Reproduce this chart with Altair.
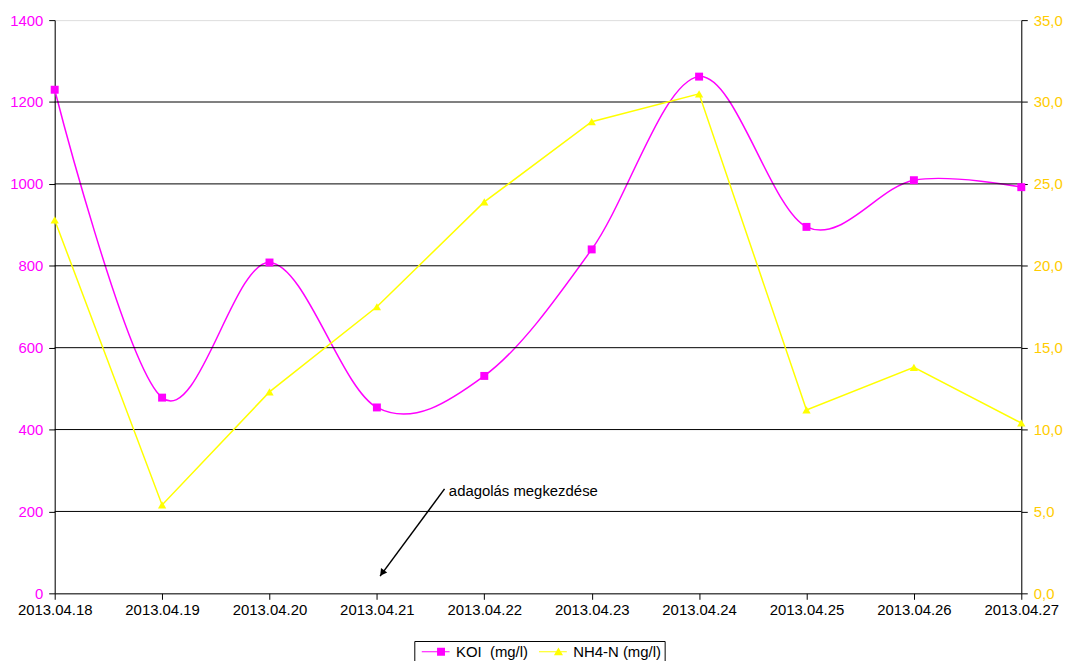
import json
import altair as alt
import pandas as pd

dates = ["2013.04.18", "2013.04.19", "2013.04.20", "2013.04.21", "2013.04.22",
         "2013.04.23", "2013.04.24", "2013.04.25", "2013.04.26", "2013.04.27"]
koi = [1230, 478, 808, 454, 531, 840, 1262, 895, 1009, 992]
nh4 = [22.8, 5.4, 12.3, 17.5, 23.9, 28.8, 30.5, 11.2, 13.8, 10.4]

series_names = ["KOI\u00a0\u00a0(mg/l)", "NH4-N (mg/l)"]
series_colors = ["#FF00FF", "#FFFF00"]

ann_text = ["adagolás megkezdése"]
ann_text_x = [3.67]
ann_text_y = [250]
arrow_x0, arrow_y0 = [3.63], [255]
arrow_x1, arrow_y1 = [3.03], [42]
head_x, head_y = [3.055], [52]

df = pd.DataFrame({"i": list(range(len(dates))), "date": dates, "koi": koi, "nh4": nh4})
ann_df = pd.DataFrame({"x": ann_text_x, "y": ann_text_y, "t": ann_text})
arrow_df = pd.DataFrame({"x0": arrow_x0, "y0": arrow_y0, "x1": arrow_x1, "y1": arrow_y1})
head_df = pd.DataFrame({"x": head_x, "y": head_y})
leg_df = pd.DataFrame({"s": series_names, "x": [None, None], "y": [None, None]})

FONT = "Liberation Sans"
xscale = alt.Scale(domain=[0, len(dates) - 1], nice=False, zero=False)
xaxis = alt.Axis(values=list(range(len(dates))), labelExpr=json.dumps(dates) + "[datum.value]",
                 title=None, grid=False, domainColor="black", tickColor="black", tickSize=6,
                 labelColor="black", labelFontSize=15, labelPadding=3, labelFont=FONT,
                 labelOverlap=False, labelFlush=False)
X = lambda f: alt.X(f, type="quantitative", scale=xscale, axis=xaxis)

yscale_l = alt.Scale(domain=[0, 1400], nice=False)
yscale_r = alt.Scale(domain=[0, 35], nice=False)

koi_line = alt.Chart(df).mark_line(color="#FF00FF", strokeWidth=1.5, interpolate="cardinal").encode(
    x=X("i"),
    y=alt.Y("koi:Q", scale=yscale_l, title=None,
            axis=alt.Axis(orient="left", values=list(range(0, 1401, 200)), grid=False,
                          domainColor="black", format="d",
                          tickColor="black", tickSize=6, labelColor="#FF00FF", labelFontSize=15,
                          labelPadding=6, labelFont=FONT, title=None, labelOverlap=False,
                          labelFlush=False)),
)
grid = alt.Chart(pd.DataFrame({"g": list(range(200, 1400, 200))})).mark_rule(
    color="black", strokeWidth=1).encode(y=alt.Y("g:Q", title=None))
koi_pts = alt.Chart(df).mark_point(shape="square", filled=True, size=64, color="#FF00FF", opacity=1).encode(
    x=X("i"), y=alt.Y("koi:Q", title=None))

arrow = alt.Chart(arrow_df).mark_rule(color="black", strokeWidth=1.5).encode(
    x=X("x0"), x2="x1", y=alt.Y("y0:Q", title=None), y2="y1")
head = alt.Chart(head_df).mark_point(shape="triangle", filled=True, size=60, color="black",
                                      angle=216, opacity=1).encode(
    x=X("x"), y=alt.Y("y:Q", title=None))
ann = alt.Chart(ann_df).mark_text(align="left", baseline="middle", fontSize=15, font=FONT,
                                  color="black").encode(
    x=X("x"), y=alt.Y("y:Q", title=None), text="t:N")

sq_path = "M-2,-0.07L2,-0.07L2,0.07L-2,0.07Z M0.2,-0.57L1.34,-0.57L1.34,0.57L0.2,0.57Z"
tri_path = "M-2,-0.07L2,-0.07L2,0.07L-2,0.07Z M0.8,-0.6L1.45,0.5L0.15,0.5Z"
leg = alt.Legend(orient="none", legendX=362, legendY=625, direction="horizontal", title=None,
                 fillColor="white", strokeColor="black", padding=3, labelFontSize=15,
                 labelColor="black", labelFont=FONT, symbolSize=196, symbolStrokeWidth=0,
                 symbolOffset=11, columnPadding=6, labelOffset=13, symbolOpacity=1, cornerRadius=0)
legend_layer = alt.Chart(leg_df).mark_point(filled=True, opacity=1).encode(
    x=X("x"), y=alt.Y("y:Q", title=None),
    color=alt.Color("s:N", scale=alt.Scale(domain=series_names, range=series_colors), legend=leg),
    shape=alt.Shape("s:N", scale=alt.Scale(domain=series_names, range=[sq_path, tri_path]), legend=leg),
)

nh4_line = alt.Chart(df).mark_line(color="#FFFF00", strokeWidth=1.5).encode(
    x=X("i"),
    y=alt.Y("nh4:Q", scale=yscale_r, title=None,
            axis=alt.Axis(orient="right", values=list(range(0, 36, 5)), grid=False,
                          domainColor="black", tickColor="black", tickSize=6,
                          labelColor="#FFCC00", labelFontSize=15, labelPadding=6, labelFont=FONT,
                          labelExpr="replace(format(datum.value, '.1f'), '.', ',')", title=None,
                          labelOverlap=False, labelFlush=False)),
)
nh4_pts = alt.Chart(df).mark_point(shape="triangle-up", filled=True, size=70, color="#FFFF00", opacity=1).encode(
    x=X("i"), y=alt.Y("nh4:Q", title=None))

left = alt.layer(koi_line, grid, arrow, head, ann, legend_layer, koi_pts)
right = alt.layer(nh4_line, nh4_pts)

chart = alt.layer(left, right).resolve_scale(y="independent").properties(
    width=973, height=577,
    autosize=alt.AutoSizeParams(type="none"),
    padding={"left": 47, "top": 10, "right": 45, "bottom": 80},
).configure_view(fill="#C0C0C0", stroke="#808080").configure(font=FONT)

chart.save("out.html", embed_options={"renderer": "svg", "actions": False})
